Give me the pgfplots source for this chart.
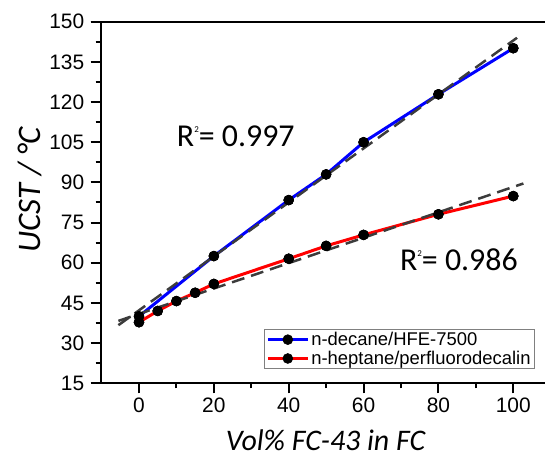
\documentclass[border=0pt]{standalone}
\usepackage{pgfplots}
\pgfplotsset{compat=1.18}
\usepackage{fontspec}
\setmainfont{Liberation Sans}
\newfontfamily\calfont{Carlito}
\definecolor{fitgray}{RGB}{60,60,60}
\newcommand{\tfs}{\fontsize{21}{21}\selectfont}
\newcommand{\lfs}{\fontsize{18.5}{18.5}\selectfont}
\begin{document}
\begin{tikzpicture}
\begin{axis}[
  name=ax,
  scale only axis,
  width=444.3bp, height=361.6bp,
  xmin=-10.23, xmax=108.47, ymin=15, ymax=150,
  axis x line*=bottom, axis y line*=left,
  axis line style={line width=2bp, -},
  xtick={0,20,...,100}, ytick={15,30,...,150},
  minor x tick num=1, minor y tick num=1,
  tick align=outside,
  major tick length=10bp, minor tick length=5bp,
  tick style={black, line width=2bp},
  /pgf/number format/assume math mode=true,
  xticklabel={\tfs\pgfmathprintnumber{\tick}},
  yticklabel={\tfs\pgfmathprintnumber{\tick}},
  yticklabel style={xshift=-3bp},
  xticklabel style={yshift=-1bp},
  every axis x label/.style={at={(rel axis cs:0.506,0)}, yshift=-67.3bp, anchor=base},
  every axis y label/.style={at={(rel axis cs:0,0.535)}, xshift=-71bp, rotate=90, anchor=center},
  xlabel={\calfont\itshape\fontsize{30}{30}\selectfont Vol\% FC-43 in FC},
  ylabel={\calfont\itshape\fontsize{33}{33}\selectfont UCST / °C},
  clip=false,
  legend style={at={(rel axis cs:1,0)}, anchor=south east, xshift=-10bp, yshift=14bp,
    draw=gray, line width=0.8bp,
    inner xsep=2bp, inner ysep=1bp, row sep=0bp, cells={anchor=west}},
  legend image code/.code={\draw[mark repeat=2,mark phase=2,#1] plot coordinates {(0bp,0bp) (20bp,0bp) (40bp,0bp)};},
]
\addplot[blue, line width=3bp, mark=*, mark size=5bp, mark options={black, fill=black, line width=0.5bp}]
  coordinates {(0,40) (20,62.5) (40,83.4) (50,93) (60,105) (80,122.9) (100,140.1)};
\addlegendentry{\lfs n-decane/HFE-7500}
\addplot[red, line width=3bp, mark=*, mark size=5bp, mark options={black, fill=black, line width=0.5bp}]
  coordinates {(0,37.8) (5,42) (10,45.7) (15,48.8) (20,52.1) (40,61.5) (50,66.3) (60,70.4) (80,78.1) (100,84.9)};
\addlegendentry{\lfs n-heptane/perfluorodecalin}
\addplot[fitgray, line width=2.5bp, dash pattern=on 13bp off 7bp, forget plot]
  coordinates {(-5.5,36.7) (101,144)};
\addplot[fitgray, line width=2.5bp, dash pattern=on 13bp off 7bp, forget plot]
  coordinates {(-5.5,38.3) (102.7,89.6)};
\addplot[only marks, mark=*, mark size=5bp, mark options={black, fill=black, line width=0.5bp}, forget plot]
  coordinates {(0,40) (20,62.5) (40,83.4) (50,93) (60,105) (80,122.9) (100,140.1)};
\addplot[only marks, mark=*, mark size=5bp, mark options={black, fill=black, line width=0.5bp}, forget plot]
  coordinates {(0,37.8) (5,42) (10,45.7) (15,48.8) (20,52.1) (40,61.5) (50,66.3) (60,70.4) (80,78.1) (100,84.9)};
\draw[line width=2bp] ([xshift=-10bp]rel axis cs:0,1) -- (rel axis cs:1,1);
\node[anchor=base west, inner sep=0, font=\calfont\fontsize{32}{32}\selectfont] at (axis cs:10.1,103.3) {R\raisebox{14bp}{\fontsize{9}{9}\selectfont 2}= 0.997};
\node[anchor=base west, inner sep=0, font=\calfont\fontsize{32}{32}\selectfont] at (axis cs:69.7,57.1) {R\raisebox{14bp}{\fontsize{9}{9}\selectfont 2}= 0.986};
\end{axis}
\pgfresetboundingbox
\path[use as bounding box] ([xshift=-100.7bp,yshift=-74.7bp]ax.south west) rectangle ([yshift=21.7bp]ax.north east);
\end{tikzpicture}
\end{document}
